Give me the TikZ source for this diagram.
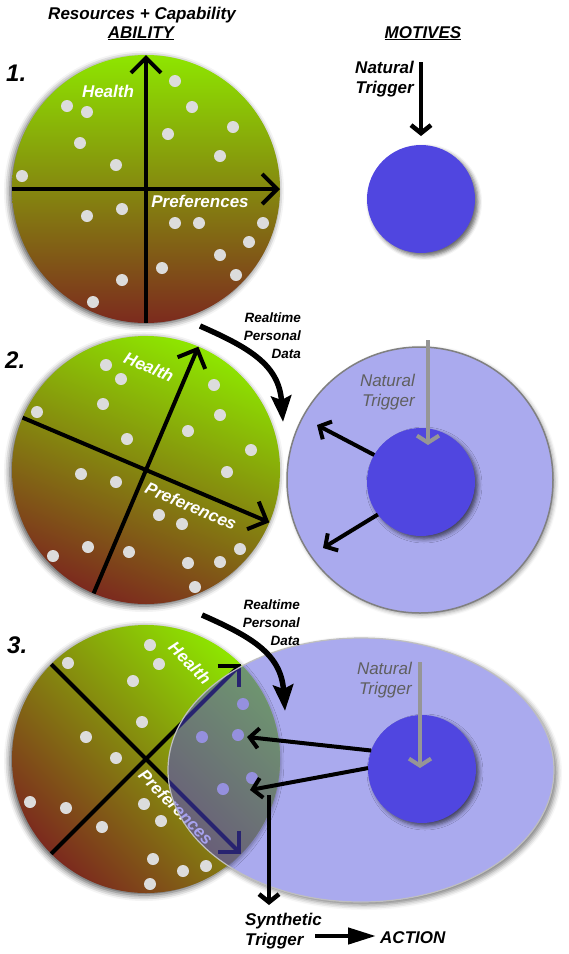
\documentclass[tikz,border=0pt]{standalone}
\usepackage{fontspec}
\setmainfont{Liberation Sans}
\usetikzlibrary{arrows.meta,shapes.geometric,shadows.blur}
\definecolor{limetop}{RGB}{142,230,0}
\definecolor{rustbot}{RGB}{124,42,30}
\definecolor{motblue}{RGB}{80,70,224}
\definecolor{motlight}{RGB}{170,170,238}
\definecolor{wdotgray}{RGB}{220,220,220}
\definecolor{trigray}{RGB}{150,150,150}
\definecolor{txtgray}{RGB}{95,95,95}
\tikzset{
  ability/.style={circle,minimum size=268pt,inner sep=0pt,outer sep=0pt,top color=limetop,bottom color=rustbot,
    blur shadow={shadow xshift=-2pt,shadow yshift=-2pt,shadow blur radius=6pt,shadow opacity=70}},
  motive/.style={circle,minimum size=108pt,inner sep=0pt,outer sep=0pt,fill=motblue,
    blur shadow={shadow xshift=3pt,shadow yshift=-3pt,shadow blur radius=4pt,shadow opacity=60}},
  motring/.style={circle,minimum size=266pt,inner sep=0pt,outer sep=0pt,fill=motlight,draw=gray,line width=1.5pt,
    blur shadow={shadow xshift=2pt,shadow yshift=-2pt,shadow blur radius=4pt,shadow opacity=40}},
  motoval/.style={ellipse,minimum width=386pt,minimum height=264pt,inner sep=0pt,outer sep=0pt,fill=motlight,
    blur shadow={shadow xshift=3pt,shadow yshift=-3pt,shadow blur radius=5pt,shadow opacity=50}},
  wdot/.style={fill=wdotgray},
  abaxis/.style={line width=4pt,-{Straight Barb[length=15pt,width=30pt]}},
  trig/.style={line width=4.5pt,-{Straight Barb[length=8pt,width=20pt]}},
  gtrig/.style={trigray,line width=4pt,-{Straight Barb[length=7pt,width=22pt]}},
  outarr/.style={line width=4pt,-{Straight Barb[length=9pt,width=20pt]}},
  rtarrow/.style={line width=5.5pt,-{Stealth[length=26pt,width=20pt,inset=4pt]}},
  actarr/.style={line width=4.5pt,-{Triangle[length=28pt,width=16pt]}},
  lbl/.style={inner sep=0pt,font=\bfseries\itshape\fontsize{17}{20}\selectfont},
  inlbl/.style={lbl,white},
  glbl/.style={inner sep=0pt,txtgray,font=\itshape\fontsize{17}{20}\selectfont},
  small/.style={inner sep=0pt,font=\bfseries\itshape\fontsize{13.5}{18}\selectfont},
  panelnum/.style={inner sep=0pt,font=\bfseries\itshape\fontsize{24}{28}\selectfont}
}
\begin{document}
\begin{tikzpicture}[x=1pt,y=-1pt]
\useasboundingbox (0,0) rectangle (569,954);
\node[lbl,anchor=base] (hdrRes) at (142,19) {Resources + Capability};
\node[lbl,anchor=base] (hdrAbi) at (141,38) {\underline{ABILITY}};
\node[lbl,anchor=base] (hdrMot) at (423,38) {\underline{MOTIVES}};
% 1.
\node[panelnum,anchor=base west] (num1) at (6,81) {1.};
\node[ability] (ab1) at (146,189) {};
\fill[wdot] (175,81) circle (6pt);
\fill[wdot] (67,106) circle (6pt);
\fill[wdot] (87,112) circle (6pt);
\fill[wdot] (192,107) circle (6pt);
\fill[wdot] (233,127) circle (6pt);
\fill[wdot] (168,134) circle (6pt);
\fill[wdot] (80,143) circle (6pt);
\fill[wdot] (220,156) circle (6pt);
\fill[wdot] (116,165) circle (6pt);
\fill[wdot] (22,176) circle (6pt);
\fill[wdot] (122,209) circle (6pt);
\fill[wdot] (87,216) circle (6pt);
\fill[wdot] (175,223) circle (6pt);
\fill[wdot] (199,223) circle (6pt);
\fill[wdot] (263,223) circle (6pt);
\fill[wdot] (249,242) circle (6pt);
\fill[wdot] (220,255) circle (6pt);
\fill[wdot] (162,268) circle (6pt);
\fill[wdot] (236,275) circle (6pt);
\fill[wdot] (122,280) circle (6pt);
\fill[wdot] (93,302) circle (6pt);
\draw[abaxis] (ab1.south) -- (ab1.north);
\draw[abaxis] (ab1.west) -- (ab1.east);
\node[inlbl,anchor=base] (hea1) at (108,97) {Health};
\node[inlbl,anchor=base] (pre1) at (200,207) {Preferences};
\node[motive] (mot1) at (421,199) {};
\coordinate (nat1) at (421,62);
\draw[trig] (nat1) -- ([yshift=9pt]mot1.north);
\node[lbl,align=right,anchor=north east] (natl1) at (414,61) {Natural\\Trigger};
% 2.
\node[panelnum,anchor=base west] (num2) at (5,368) {2.};
\node[ability,shading angle=-23] (ab2) at (146,470) {};
\fill[wdot] (106,365) circle (6pt);
\fill[wdot] (121,379) circle (6pt);
\fill[wdot] (214,385) circle (6pt);
\fill[wdot] (103,404) circle (6pt);
\fill[wdot] (37,412) circle (6pt);
\fill[wdot] (220,415) circle (6pt);
\fill[wdot] (188,431) circle (6pt);
\fill[wdot] (127,439) circle (6pt);
\fill[wdot] (251,450) circle (6pt);
\fill[wdot] (227,472) circle (6pt);
\fill[wdot] (81,474) circle (6pt);
\fill[wdot] (116,482) circle (6pt);
\fill[wdot] (159,515) circle (6pt);
\fill[wdot] (182,524) circle (6pt);
\fill[wdot] (240,549) circle (6pt);
\fill[wdot] (88,547) circle (6pt);
\fill[wdot] (129,552) circle (6pt);
\fill[wdot] (53,556) circle (6pt);
\fill[wdot] (188,563) circle (6pt);
\fill[wdot] (220,562) circle (6pt);
\fill[wdot] (195,587) circle (6pt);
\draw[abaxis] (ab2.247) -- (ab2.67);
\draw[abaxis] (ab2.157) -- (ab2.-23);
\node[inlbl,rotate=-23] (hea2) at (149,367) {Health};
\node[inlbl,rotate=-23] (pre2) at (191,506) {Preferences};
\coordinate (rt2a) at (200,326);
\coordinate (rt2b) at (283,422);
\draw[rtarrow] (rt2a) .. controls (250,348) and (279,365) .. (rt2b);
\node[small,align=right,anchor=north east] (rtl2) at (301,313) {Realtime\\Personal\\Data};
\node[motring] (ring2) at (420,480) {};
\node[motive] (mot2) at (421,482) {};
\node[glbl,align=right,anchor=north east] (natl2) at (415,374) {Natural\\Trigger};
\coordinate (nat2a) at (428,340);
\coordinate (nat2b) at (428,445);
\draw[gtrig] (nat2a) -- (nat2b);
\coordinate (out2a) at (317,425);
\coordinate (out2b) at (323,548);
\draw[outarr] (mot2.150) -- (out2a);
\draw[outarr] (mot2.217) -- (out2b);
% 3.
\node[panelnum,anchor=base west] (num3) at (7,653) {3.};
\node[motoval] (oval3) at (361,770) {};
\node[ability,shading angle=-45] (ab3) at (146,759) {};
\fill[wdot] (150,645) circle (6pt);
\fill[wdot] (68,663) circle (6pt);
\fill[wdot] (159,664) circle (6pt);
\fill[wdot] (133,681) circle (6pt);
\fill[wdot] (243,704) circle (6pt);
\fill[wdot] (142,722) circle (6pt);
\fill[wdot] (202,737) circle (6pt);
\fill[wdot] (238,735) circle (6pt);
\fill[wdot] (86,737) circle (6pt);
\fill[wdot] (116,758) circle (6pt);
\fill[wdot] (252,778) circle (6pt);
\fill[wdot] (223,789) circle (6pt);
\fill[wdot] (30,802) circle (6pt);
\fill[wdot] (66,808) circle (6pt);
\fill[wdot] (144,804) circle (6pt);
\fill[wdot] (161,821) circle (6pt);
\fill[wdot] (102,827) circle (6pt);
\fill[wdot] (153,859) circle (6pt);
\fill[wdot] (183,871) circle (6pt);
\fill[wdot] (206,866) circle (6pt);
\fill[wdot] (150,884) circle (6pt);
\draw[abaxis] (ab3.225) -- (ab3.45);
\draw[abaxis] (ab3.135) -- (ab3.-45);
\node[inlbl,rotate=-45] (hea3) at (190,663) {Health};
\node[inlbl,rotate=-45] (pre3) at (176,807) {Preferences};
\begin{scope}
\clip (146,759) circle (134pt);
\fill[motblue,fill opacity=.5] (361,770) ellipse (193pt and 132pt);
\end{scope}
\draw[gray!50,line width=1.2pt] (361,770) ellipse (193pt and 132pt);
\node[motive] (mot3) at (422,769) {};
\node[glbl,align=right,anchor=north east] (natl3) at (412,662) {Natural\\Trigger};
\coordinate (nat3a) at (420,662);
\coordinate (nat3b) at (420,768);
\draw[gtrig] (nat3a) -- (nat3b);
\coordinate (out3a) at (247,737);
\coordinate (out3b) at (250,790);
\draw[outarr] (mot3.160) -- (out3a);
\draw[outarr] (mot3.179) -- (out3b);
\coordinate (rt3a) at (202,615);
\coordinate (rt3b) at (285,711);
\draw[rtarrow] (rt3a) .. controls (252,637) and (281,654) .. (rt3b);
\node[small,align=right,anchor=north east] (rtl3) at (300,600) {Realtime\\Personal\\Data};
\coordinate (syn3a) at (269,795);
\node[lbl,align=left,anchor=north west] (syn3) at (245,913) {Synthetic\\Trigger};
\draw[trig] (syn3a) -- ([yshift=8pt]syn3.north -| syn3a);
\node[lbl,anchor=base west] (act) at (380,943) {ACTION};
\coordinate (act3a) at (315,936);
\draw[actarr] (act3a) -- ([xshift=-4pt]act.west |- act3a);
\end{tikzpicture}
\end{document}
